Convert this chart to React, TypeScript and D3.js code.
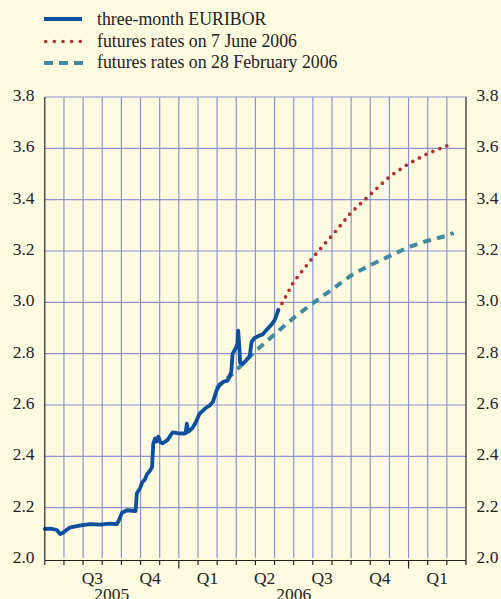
import React from "react";
import * as d3 from "d3";

// ---- data ----
const euriborDates = [
  "2005-06-01","2005-06-10","2005-06-20","2005-06-25","2005-06-30","2005-07-10","2005-07-26","2005-08-12",
  "2005-08-28","2005-09-13","2005-09-24","2005-09-27","2005-10-02","2005-10-10","2005-10-24","2005-10-26",
  "2005-10-31","2005-11-04","2005-11-08","2005-11-11","2005-11-16","2005-11-19","2005-11-21","2005-11-24",
  "2005-11-26","2005-11-29","2005-12-02","2005-12-06","2005-12-14","2005-12-18","2005-12-22","2005-12-30",
  "2006-01-07","2006-01-12","2006-01-14","2006-01-16","2006-01-23","2006-01-29","2006-02-03","2006-02-13",
  "2006-02-18","2006-02-23","2006-02-28","2006-03-05","2006-03-11","2006-03-18","2006-03-21","2006-03-24",
  "2006-03-26","2006-03-31","2006-04-03","2006-04-04","2006-04-06","2006-04-07","2006-04-11","2006-04-17",
  "2006-04-22","2006-04-25","2006-04-29","2006-05-07","2006-05-13","2006-05-18","2006-05-26","2006-06-01",
  "2006-06-07"
];
const euriborValues = [
  2.117,2.118,2.113,2.097,2.103,2.122,2.13,2.136,
  2.134,2.138,2.136,2.15,2.18,2.19,2.187,2.256,
  2.275,2.3,2.31,2.33,2.345,2.358,2.45,2.47,
  2.458,2.476,2.455,2.451,2.464,2.48,2.493,2.49,
  2.489,2.49,2.527,2.495,2.51,2.535,2.565,2.59,
  2.598,2.613,2.655,2.68,2.69,2.695,2.71,2.73,
  2.8,2.82,2.84,2.89,2.82,2.765,2.76,2.775,
  2.79,2.845,2.86,2.87,2.875,2.89,2.91,2.93,
  2.97
];

const futJunDates = ["2006-06-07","2006-07-01","2006-08-01","2006-09-01","2006-10-01","2006-11-01","2006-12-01","2007-01-01","2007-02-01","2007-03-01","2007-03-07"];
const futJunValues = [2.97,3.08,3.175,3.26,3.35,3.42,3.49,3.54,3.58,3.61,3.625];

const futFebDates = ["2006-02-28","2006-04-01","2006-05-01","2006-06-01","2006-07-01","2006-08-01","2006-09-01","2006-10-01","2006-11-01","2006-12-01","2007-01-01","2007-02-01","2007-03-01","2007-03-12"];
const futFebValues = [2.665,2.735,2.81,2.875,2.94,2.997,3.05,3.105,3.145,3.18,3.215,3.24,3.26,3.27];

const yTicks = [2.0,2.2,2.4,2.6,2.8,3.0,3.2,3.4,3.6,3.8];
const yTickLabels = ["2.0","2.2","2.4","2.6","2.8","3.0","3.2","3.4","3.6","3.8"];
const quarterLabels = ["Q3","Q4","Q1","Q2","Q3","Q4","Q1"];
const quarterCenters = ["2005-08-16","2005-11-16","2006-02-15","2006-05-16","2006-08-16","2006-11-16","2007-02-15"];
const yearLabels = ["2005","2006"];
const yearCenters = ["2005-09-16","2006-07-01"];
const legendLabels = ["three-month EURIBOR","futures rates on 7 June 2006","futures rates on 28 February 2006"];

// month index: 0 = 1 June 2005
function monthIndex(s: string): number {
  const [y, m, d] = s.split("-").map(Number);
  const dim = new Date(y, m, 0).getDate();
  return (y - 2005) * 12 + (m - 6) + (d - 1) / dim;
}

const W = 501, H = 599;
const left = 44.8, right = 466, top = 97, bottom = 559;
const x = d3.scaleLinear().domain([0, 22]).range([left, right]);
const y = d3.scaleLinear().domain([2.0, 3.8]).range([bottom, top]);

const BLUE = "#0c4f9e";
const RED = "#b02f2f";
const TEAL = "#3f8aa0";
const GRID = "#8895cf";
const BG = "#fefbe0";
const TXT = "#222";
const FONT = "'Liberation Serif', 'Times New Roman', serif";

export default function App() {
  const line = d3.line<[number, number]>().x(d => x(d[0])).y(d => y(d[1]));
  const eur = line(euriborDates.map((dt, i) => [monthIndex(dt), euriborValues[i]] as [number, number]))!;
  const jun = line(futJunDates.map((dt, i) => [monthIndex(dt), futJunValues[i]] as [number, number]))!;
  const feb = line(futFebDates.map((dt, i) => [monthIndex(dt), futFebValues[i]] as [number, number]))!;
  const months = d3.range(0, 23);
  const axisY = bottom + 1.5;

  return (
    <div style={{ position: "absolute", left: 0, top: 0 }}>
      <svg width={W} height={H} style={{ display: "block" }}>
        <rect x={0} y={0} width={W} height={H} fill={BG} />
        {/* legend */}
        <g fontFamily={FONT} fontSize={17.8} fill={TXT}>
          <line x1={44} x2={82} y1={19} y2={19} stroke={BLUE} strokeWidth={4} />
          <line x1={45.7} x2={82} y1={41.5} y2={41.5} stroke={RED} strokeWidth={3.6} strokeDasharray="0 8.65" strokeLinecap="round" />
          <line x1={44} x2={83} y1={63} y2={63} stroke={TEAL} strokeWidth={4} strokeDasharray="9 6" />
          {legendLabels.map((t, i) => (
            <text key={t} x={97} y={25 + i * 21.7}>{t}</text>
          ))}
        </g>
        {/* grid */}
        <g stroke={GRID} strokeWidth={1.2}>
          {yTicks.filter(v => v > 2.0).map(v => (
            <line key={"h" + v} x1={left} x2={right} y1={y(v)} y2={y(v)} />
          ))}
          {months.filter(m => m > 0 && m < 22).map(m => (
            <line key={"v" + m} x1={x(m)} x2={x(m)} y1={top} y2={bottom - 1} />
          ))}
        </g>
        {/* series */}
        <path d={feb} fill="none" stroke={TEAL} strokeWidth={4} strokeDasharray="8 6.2" />
        <path d={jun} fill="none" stroke={RED} strokeWidth={3.7} strokeDasharray="0 7.5" strokeLinecap="round" />
        <path d={eur} fill="none" stroke={BLUE} strokeWidth={3.8} strokeLinejoin="round" strokeLinecap="round" />
        {/* axes */}
        <g stroke="#222" strokeWidth={1.2}>
          <line x1={left} x2={left} y1={top} y2={axisY} />
          <line x1={right} x2={right} y1={top} y2={axisY} />
          <line x1={left} x2={right} y1={axisY} y2={axisY} />
          {months.map(m => (
            <line key={"t" + m} x1={x(m)} x2={x(m)} y1={axisY} y2={axisY + (m === 7 || m === 19 ? 8 : 4.5)} />
          ))}
        </g>
        <g fontFamily={FONT} fontSize={17.5} fill={TXT}>
          {yTicks.map((v, i) => (
            <text key={"l" + v} x={34.5} y={y(v) + 4} textAnchor="end">{yTickLabels[i]}</text>
          ))}
          {yTicks.map((v, i) => (
            <text key={"r" + v} x={476.5} y={y(v) + 4} textAnchor="start">{yTickLabels[i]}</text>
          ))}
          {quarterLabels.map((q, i) => (
            <text key={"q" + i} x={x(monthIndex(quarterCenters[i]))} y={583.5} textAnchor="middle">{q}</text>
          ))}
          {yearLabels.map((t, i) => (
            <text key={"y" + i} x={x(monthIndex(yearCenters[i]))} y={599.5} textAnchor="middle">{t}</text>
          ))}
        </g>
      </svg>
    </div>
  );
}
